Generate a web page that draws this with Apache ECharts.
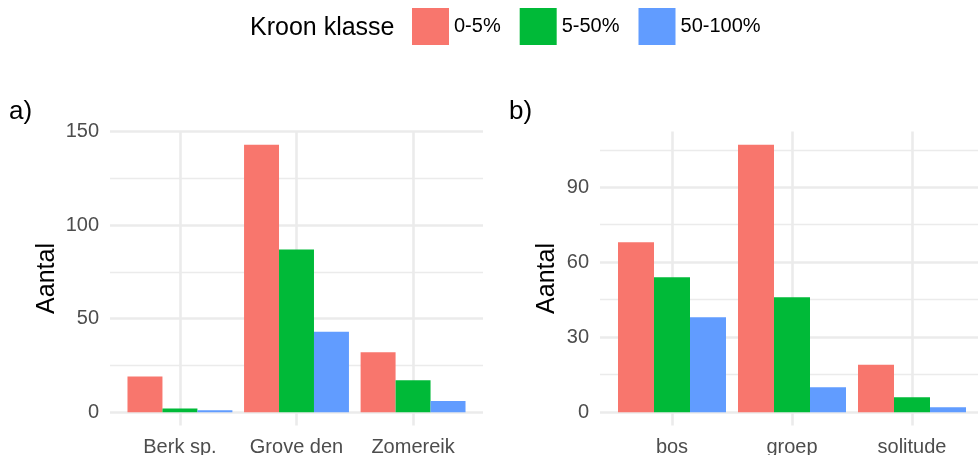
<!DOCTYPE html>
<html>
<head>
<meta charset="utf-8">
<script src="https://cdn.jsdelivr.net/npm/echarts@6/dist/echarts.min.js"></script>
<style>
  html, body { margin: 0; padding: 0; background: #fff; }
  #chart { width: 978px; height: 455px; }
</style>
</head>
<body>
<div id="chart"></div>
<script>
const klassen = ["0-5%", "5-50%", "50-100%"];
const kleuren = ["#F8766D", "#00BA38", "#619CFF"];

// panel a: per boomsoort
const soorten = ["Berk sp.", "Grove den", "Zomereik"];
const soort_0_5 = [19, 143, 32];
const soort_5_50 = [2, 87, 17];
const soort_50_100 = [1, 43, 6];
const ticksA = [0, 50, 100, 150];
const minorA = [25, 75, 125];

// panel b: per standplaats
const standen = ["bos", "groep", "solitude"];
const stand_0_5 = [68, 107, 19];
const stand_5_50 = [54, 46, 6];
const stand_50_100 = [38, 10, 2];
const ticksB = [0, 30, 60, 90];
const minorB = [15, 45, 75, 105];

const font = "'Liberation Sans', Arial, sans-serif";
const grey = "#EBEBEB";

function xas(grid, cats) {
  return {
    type: "value", gridIndex: grid, min: 0.4, max: 3.6,
    axisLine: { show: false },
    axisTick: { show: false, customValues: [1, 2, 3] },
    axisLabel: {
      customValues: [1, 2, 3], formatter: v => cats[Math.round(v) - 1],
      color: "#4D4D4D", fontSize: 20, fontFamily: font, margin: 12
    },
    splitLine: { show: true, lineStyle: { color: grey, width: 2.6 } }
  };
}

function yas(grid, lo, hi, ticks, gap) {
  return {
    type: "value", gridIndex: grid, min: lo, max: hi,
    name: "Aantal", nameLocation: "middle", nameGap: gap,
    nameTextStyle: { fontSize: 25, color: "#000", fontFamily: font },
    axisLine: { show: false },
    axisTick: { show: false, customValues: ticks },
    axisLabel: { customValues: ticks, color: "#4D4D4D", fontSize: 20, fontFamily: font, margin: 11 },
    splitLine: { show: true, lineStyle: { color: grey, width: 2.6 } }
  };
}

function yminor(grid, lo, hi, ticks) {
  return {
    type: "value", gridIndex: grid, min: lo, max: hi,
    axisLine: { show: false },
    axisTick: { show: false, customValues: ticks },
    axisLabel: { show: false, customValues: ticks },
    splitLine: { show: true, lineStyle: { color: grey, width: 1.3 } }
  };
}

function bars(values, k, xi, yi) {
  return {
    name: klassen[k], type: "bar", xAxisIndex: xi, yAxisIndex: yi,
    data: values.map((v, i) => [i + 1, v]),
    itemStyle: { color: kleuren[k] },
    barGap: "0%", barCategoryGap: "10%",
    animation: false
  };
}

const chart = echarts.init(document.getElementById("chart"));
chart.setOption({
  textStyle: { fontFamily: font },
  title: [
    { text: "Kroon klasse", left: 250, top: 16, padding: 0,
      textStyle: { fontSize: 25, fontWeight: "normal", color: "#000", fontFamily: font } },
    { text: "a)", left: 9, top: 99, padding: 0,
      textStyle: { fontSize: 26, fontWeight: "normal", color: "#000", fontFamily: font } },
    { text: "b)", left: 509, top: 99, padding: 0,
      textStyle: { fontSize: 26, fontWeight: "normal", color: "#000", fontFamily: font } }
  ],
  legend: {
    data: klassen, left: 412, top: 8, padding: 0,
    icon: "rect", itemWidth: 37, itemHeight: 37, itemGap: 19,
    textStyle: { fontSize: 20, color: "#000", fontFamily: font }
  },
  grid: [
    { left: 110, right: 495, top: 131.4, bottom: 29.5, outerBoundsMode: "none" },
    { left: 600, right: -6, top: 131.4, bottom: 29.5, outerBoundsMode: "none" }
  ],
  xAxis: [xas(0, soorten), xas(1, standen)],
  yAxis: [
    yas(0, -7.15, 150.15, ticksA, 50),
    yminor(0, -7.15, 150.15, minorA),
    yas(1, -5.35, 112.35, ticksB, 40),
    yminor(1, -5.35, 112.35, minorB)
  ],
  series: [
    bars(soort_0_5, 0, 0, 0),
    bars(soort_5_50, 1, 0, 0),
    bars(soort_50_100, 2, 0, 0),
    bars(stand_0_5, 0, 1, 2),
    bars(stand_5_50, 1, 1, 2),
    bars(stand_50_100, 2, 1, 2)
  ]
});
</script>
</body>
</html>
